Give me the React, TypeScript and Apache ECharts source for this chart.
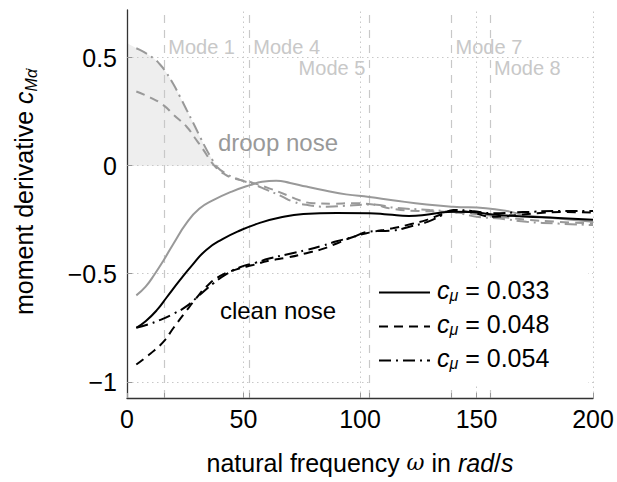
import React, { useEffect, useRef } from "react";
import * as echarts from "echarts";

const FONT = "Liberation Sans";

// x tick labels (value axis), y tick labels
const xTicks = [0, 50, 100, 150, 200];
const yTicks = [-1, -0.5, 0, 0.5];

// Mode frequencies (rad/s)
const modeNames = ["Mode 1", "Mode 4", "Mode 5", "Mode 7", "Mode 8"];
const modeOmega = [16, 52.5, 104, 139.3, 155.8];

// clean nose
const clean033: [number, number][] = [
  [4, -0.75], [8, -0.72], [12.7, -0.67], [17, -0.61], [22.7, -0.53], [28, -0.46], [34, -0.39],
  [41, -0.34], [48.5, -0.3], [57, -0.265], [65.7, -0.24], [75.7, -0.224], [90, -0.219], [104, -0.22],
  [112, -0.226], [121, -0.233], [130, -0.225], [140, -0.213], [148, -0.215], [157, -0.226],
  [170, -0.235], [185, -0.242], [200, -0.25],
];
const clean048: [number, number][] = [
  [4, -0.92], [10, -0.87], [15.6, -0.815], [20, -0.75], [25.6, -0.67], [30, -0.61], [34, -0.56],
  [40, -0.51], [47, -0.48], [54, -0.46], [61, -0.44], [69, -0.425], [77, -0.405], [84, -0.385],
  [90, -0.36], [97, -0.33], [104, -0.31], [114, -0.29], [122, -0.27], [129, -0.25], [135, -0.225],
  [140, -0.21], [147, -0.215], [157, -0.236], [166, -0.23], [176, -0.22], [188, -0.215], [200, -0.217],
];
const clean054: [number, number][] = [
  [4, -0.75], [9, -0.735], [14, -0.715], [20, -0.685], [25.6, -0.65], [31, -0.6], [37, -0.545],
  [43, -0.5], [48.5, -0.47], [55, -0.45], [61, -0.43], [69, -0.41], [77, -0.39], [84, -0.37],
  [90, -0.35], [97, -0.33], [104, -0.305], [114, -0.3], [122, -0.28], [129, -0.26], [135, -0.23],
  [140, -0.205], [148, -0.21], [157, -0.22], [170, -0.215], [186, -0.21], [200, -0.21],
];

// droop nose
const droop033: [number, number][] = [
  [4, -0.6], [8, -0.56], [12, -0.5], [15.6, -0.44], [20, -0.36], [25.6, -0.265], [31, -0.2],
  [37, -0.16], [45, -0.12], [52.8, -0.09], [58, -0.075], [64, -0.07], [70, -0.08], [77, -0.097],
  [85, -0.115], [94, -0.133], [104, -0.145], [114, -0.16], [128.6, -0.18], [140, -0.19],
  [154, -0.197], [163, -0.21], [171.5, -0.23], [185, -0.245], [200, -0.26],
];
const droop048: [number, number][] = [
  [4, 0.343], [10, 0.315], [15.6, 0.28], [20, 0.235], [25.6, 0.18], [29, 0.13], [32.8, 0.073],
  [36, 0.02], [38.5, -0.012], [42, -0.04], [45.6, -0.058], [50, -0.07], [54, -0.08], [61, -0.105],
  [68.5, -0.136], [74, -0.16], [80, -0.174], [88, -0.176], [97, -0.174], [105.6, -0.18],
  [114, -0.2], [125, -0.21], [135.8, -0.213], [145, -0.22], [154, -0.228], [163, -0.24],
  [171.5, -0.25], [185, -0.26], [200, -0.267],
];
const droop054: [number, number][] = [
  [4, 0.543], [7, 0.527], [11.3, 0.497], [14, 0.47], [17, 0.428], [20, 0.375], [22.7, 0.32],
  [25.5, 0.26], [28.5, 0.196], [31.5, 0.13], [34.2, 0.073], [36.5, 0.03], [38.5, -0.005],
  [43, -0.04], [48.5, -0.066], [54, -0.085], [60, -0.112], [66, -0.14], [71.4, -0.167],
  [78, -0.183], [85.7, -0.19], [95, -0.185], [105.7, -0.18], [115, -0.195], [130, -0.205],
  [140, -0.215], [150, -0.236], [160, -0.245], [171.5, -0.26], [185, -0.268], [200, -0.275],
];
// shaded region above zero under the droop-nose c_mu = 0.054 curve
const droopShade: [number, number][] = [
  [0, 0.567], [4, 0.543], [7, 0.527], [11.3, 0.497], [14, 0.47], [17, 0.428], [20, 0.375],
  [22.7, 0.32], [25.5, 0.26], [28.5, 0.196], [31.5, 0.13], [34.2, 0.073], [36.5, 0.03], [38.3, 0],
];

const legendLabels = ["0.033", "0.048", "0.054"];

const BLACK = "#000";
const GRAY = "#999";
const DASH = [9, 6];
const DASHDOT = [12, 5, 2, 5];

export default function App() {
  const ref = useRef<HTMLDivElement>(null);
  useEffect(() => {
    if (!ref.current) return;
    const chart = echarts.init(ref.current, null, { renderer: "svg" });
    const curve = (name: string, data: [number, number][], color: string, type: any) => ({
      name,
      type: "line",
      data,
      smooth: 0.5,
      showSymbol: false,
      symbol: "none",
      z: 6,
      lineStyle: { color, width: 2, type },
    });
    const option: any = {
      animation: false,
      grid: { left: 127, right: 24, top: 10, bottom: 84, containLabel: false },
      xAxis: {
        type: "value",
        min: 0,
        max: 200,
        interval: 50,
        z: 10,
        axisLine: { onZero: false, lineStyle: { color: "#333", width: 1.3 } },
        axisTick: {
          inside: true,
          length: 5,
          lineStyle: { color: "#999" },
          customValues: [0, 50, 100, 150, 200, ...modeOmega],
        },
        axisLabel: {
          fontSize: 25,
          color: "#000",
          fontFamily: FONT,
          margin: 8,
          customValues: xTicks,
        },
        splitLine: { show: false },
        name: "{n|natural frequency }{w|ω}{n| in }{i|rad}{n|/}{i|s}",
        nameLocation: "middle",
        nameGap: 52,
        nameTextStyle: {
          rich: {
            n: { fontSize: 25, fontFamily: FONT, color: "#000" },
            w: { fontSize: 22, fontFamily: "DejaVu Serif", fontStyle: "italic", color: "#000" },
            i: { fontSize: 25, fontFamily: FONT, fontStyle: "italic", color: "#000" },
          },
        },
      },
      yAxis: {
        type: "value",
        min: -1.075,
        max: 0.72,
        z: 10,
        axisLine: { onZero: false, lineStyle: { color: "#333", width: 1.3 } },
        axisTick: { inside: true, length: 5, lineStyle: { color: "#999" }, customValues: yTicks },
        axisLabel: {
          fontSize: 25,
          color: "#000",
          fontFamily: FONT,
          margin: 10,
          customValues: yTicks,
          formatter: (v: number) => (v < 0 ? "\u2212" + String(-v) : String(v)),
        },
        splitLine: { show: false },
      },
      series: [
        {
          type: "line",
          data: [],
          z: 1,
          silent: true,
          markLine: {
            silent: true,
            symbol: "none",
            label: { show: false },
            lineStyle: { color: "#c8c8c8", width: 1, type: [1.5, 3.5] },
            data: [
              ...xTicks.filter((v) => v > 0).map((v) => ({ xAxis: v })),
              ...yTicks.map((v) => ({ yAxis: v })),
            ],
          },
        },
        {
          type: "line",
          data: droopShade,
          smooth: 0.5,
          showSymbol: false,
          symbol: "none",
          z: 2,
          silent: true,
          lineStyle: { width: 0 },
          areaStyle: { color: "#eeeeee", opacity: 1 },
        },
        {
          type: "line",
          data: [],
          z: 3,
          silent: true,
          markLine: {
            silent: true,
            symbol: "none",
            label: { show: false },
            lineStyle: { color: "#c8c8c8", width: 1.2, type: [8, 7] },
            data: modeOmega.map((v) => ({ xAxis: v })),
          },
        },
        curve("droop 0.033", droop033, GRAY, "solid"),
        curve("droop 0.048", droop048, GRAY, DASH),
        curve("droop 0.054", droop054, GRAY, DASHDOT),
        curve("clean 0.033", clean033, BLACK, "solid"),
        curve("clean 0.048", clean048, BLACK, DASH),
        curve("clean 0.054", clean054, BLACK, DASHDOT),
      ],
    };
    chart.setOption(option);

    const px = (x: number, y: number) => chart.convertToPixel({ gridIndex: 0 }, [x, y]) as number[];
    const modeTop = 0.55;
    const modeLow = 0.452;
    const modePos: { x: number; y: number; align: string }[] = [
      { x: modeOmega[0], y: modeTop, align: "left" },
      { x: modeOmega[1], y: modeTop, align: "left" },
      { x: modeOmega[2], y: modeLow, align: "right" },
      { x: modeOmega[3], y: modeTop, align: "left" },
      { x: modeOmega[4], y: modeLow, align: "left" },
    ];
    const graphics: any[] = [];
    modePos.forEach((m, i) => {
      const p = px(m.x, m.y);
      graphics.push({
        type: "text",
        x: p[0] + (m.align === "left" ? 4 : -4),
        y: p[1],
        z: 4,
        silent: true,
        style: {
          text: modeNames[i],
          fill: "#c8c8c8",
          fontSize: 20,
          fontFamily: FONT,
          align: m.align,
          verticalAlign: "middle",
          textAlign: m.align,
          textVerticalAlign: "middle",
        },
      });
    });
    const dn = px(64.8, 0.105);
    graphics.push({
      type: "text", x: dn[0], y: dn[1], z: 7, silent: true,
      style: { text: "droop nose", fill: GRAY, fontSize: 24, fontFamily: FONT, align: "center", verticalAlign: "middle", textAlign: "center", textVerticalAlign: "middle" },
    });
    const cn = px(64.8, -0.668);
    graphics.push({
      type: "text", x: cn[0], y: cn[1], z: 7, silent: true,
      style: { text: "clean nose", fill: BLACK, fontSize: 24, fontFamily: FONT, align: "center", verticalAlign: "middle", textAlign: "center", textVerticalAlign: "middle" },
    });
    // legend box
    graphics.push({
      type: "rect", z: 5, silent: true,
      shape: { x: 372, y: 268, width: 216, height: 116 },
      style: { fill: "#fff" },
    });
    const rowY = [292.5, 326.5, 360.5];
    const types = [[], DASH, DASHDOT];
    legendLabels.forEach((lab, i) => {
      graphics.push({
        type: "line", z: 7, silent: true,
        shape: { x1: 379, y1: rowY[i], x2: 430, y2: rowY[i] },
        style: { stroke: BLACK, lineWidth: 2, lineDash: types[i].length ? types[i] : null },
      });
      graphics.push({
        type: "text", x: 437, y: rowY[i] - 3, z: 7, silent: true,
        style: {
          text: `{c|c}{m|μ}{n| = ${lab}}`,
          align: "left", verticalAlign: "middle", textAlign: "left", textVerticalAlign: "middle",
          rich: {
            c: { fontSize: 25, fontFamily: FONT, fontStyle: "italic", fill: BLACK, lineHeight: 28, verticalAlign: "middle" },
            m: { fontSize: 16, fontFamily: FONT, fontStyle: "italic", fill: BLACK, verticalAlign: "bottom", lineHeight: 28, padding: [10, 0, 0, 0] },
            n: { fontSize: 25, fontFamily: FONT, fill: BLACK, lineHeight: 28, verticalAlign: "middle" },
          },
        },
      });
    });
    // y-axis title
    graphics.push({
      type: "text", x: 24, y: 192, rotation: Math.PI / 2, z: 7, silent: true,
      style: {
        text: "{n|moment derivative }{c|c}{s|Mα\u0307}",
        align: "center", verticalAlign: "middle", textAlign: "center", textVerticalAlign: "middle",
        rich: {
          n: { fontSize: 25, fontFamily: FONT, fill: BLACK, lineHeight: 30, verticalAlign: "middle" },
          c: { fontSize: 25, fontFamily: FONT, fontStyle: "italic", fill: BLACK, lineHeight: 30, verticalAlign: "middle" },
          s: { fontSize: 16, fontFamily: FONT, fontStyle: "italic", fill: BLACK, lineHeight: 30, verticalAlign: "bottom", padding: [10, 0, 0, 0] },
        },
      },
    });
    chart.setOption({ graphic: graphics });
    return () => chart.dispose();
  }, []);
  return (
    <div
      ref={ref}
      style={{ position: "fixed", left: 0, top: 0, width: 617, height: 482, background: "#fff" }}
    />
  );
}
